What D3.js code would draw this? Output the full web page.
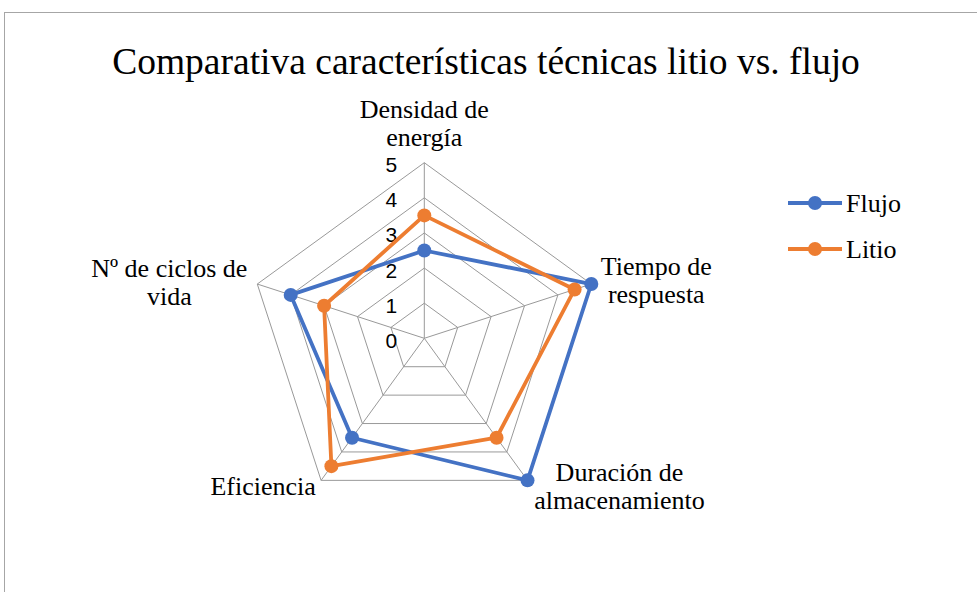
<!DOCTYPE html>
<html>
<head>
<meta charset="utf-8">
<script src="https://cdn.jsdelivr.net/npm/d3@7"></script>
<style>
  body { margin: 0; background: #fff; }
  text { fill: #000; }
</style>
</head>
<body>
<div id="chart"></div>
<script>
// Data
var axesNames = [
    ["Densidad de", "energía"],
    ["Tiempo de", "respuesta"],
    ["Duración de", "almacenamiento"],
    ["Eficiencia"],
    ["Nº de ciclos de", "vida"]
];
var flujoValues = [2.5, 5, 5, 3.5, 4];
var litioValues = [3.5, 4.5, 3.5, 4.5, 3];
var seriesNames = ["Flujo", "Litio"];
var tickValues = [0, 1, 2, 3, 4, 5];

var svgWidth = 977;
var svgHeight = 592;
var cx = 424.3, cy = 338.3, radius = 175.6;
var colors = ["#4472C4", "#ED7D31"];

var svg = d3.select('#chart').append('svg')
    .attr('width', svgWidth)
    .attr('height', svgHeight);

// chart border
svg.append('rect')
    .attr('x', 4.5).attr('y', 12.5)
    .attr('width', 1000).attr('height', 1000)
    .attr('fill', 'none')
    .attr('stroke', '#a6a6a6');

// Title
svg.append('text')
    .attr('x', 486)
    .attr('y', 74)
    .attr('text-anchor', 'middle')
    .style('font-family', 'Liberation Serif, Times New Roman, serif')
    .style('font-size', '37.5px')
    .text('Comparativa características técnicas litio vs. flujo');

var rScale = d3.scaleLinear().domain([0, 5]).range([0, radius]);
var angle = d3.scalePoint().domain(d3.range(axesNames.length)).range([0, 2 * Math.PI * 4 / 5]);

function pt(i, v) {
    var a = angle(i) - Math.PI / 2;
    return [cx + rScale(v) * Math.cos(a), cy + rScale(v) * Math.sin(a)];
}

var g = svg.append('g');

// grid rings
tickValues.slice(1).forEach(function (t) {
    g.append('polygon')
        .attr('points', d3.range(axesNames.length).map(function (i) { return pt(i, t).join(','); }).join(' '))
        .attr('fill', 'none')
        .attr('stroke', '#999')
        .attr('stroke-width', 1);
});

// spokes
d3.range(axesNames.length).forEach(function (i) {
    var p = pt(i, 5);
    g.append('line')
        .attr('x1', cx).attr('y1', cy)
        .attr('x2', p[0]).attr('y2', p[1])
        .attr('stroke', '#999')
        .attr('stroke-width', 1);
});

// tick labels
g.selectAll('.tick')
    .data(tickValues)
    .enter()
    .append('text')
    .attr('x', cx - 27)
    .attr('y', d => cy - rScale(d) + 2)
    .attr('text-anchor', 'end')
    .attr('dominant-baseline', 'central')
    .style('font-family', 'Liberation Sans, Arial, sans-serif')
    .style('font-size', '21px')
    .text(d => d);

// axis labels
var labelOffsets = [[0, -44.7], [65, -9], [92, 1], [-58, 15], [-88, -7]];
axesNames.forEach(function (lines, i) {
    var p = pt(i, 5);
    var t = g.append('text')
        .attr('text-anchor', 'middle')
        .style('font-family', 'Liberation Serif, Times New Roman, serif')
        .style('font-size', '26px');
    lines.forEach(function (l, k) {
        t.append('tspan')
            .attr('x', p[0] + labelOffsets[i][0])
            .attr('y', p[1] + labelOffsets[i][1] + k * 28)
            .text(l);
    });
});

// series
var allSeries = [flujoValues, litioValues];
var line = d3.line();
allSeries.forEach(function (vals, s) {
    var pts = vals.map(function (v, i) { return pt(i, v); });
    g.append('path')
        .attr('d', line(pts) + 'Z')
        .attr('fill', 'none')
        .attr('stroke', colors[s])
        .attr('stroke-width', 3.8)
        .attr('stroke-linejoin', 'round');
});
allSeries.forEach(function (vals, s) {
    g.selectAll('.m' + s)
        .data(vals)
        .enter()
        .append('circle')
        .attr('cx', (d, i) => pt(i, d)[0])
        .attr('cy', (d, i) => pt(i, d)[1])
        .attr('r', 7)
        .attr('fill', colors[s]);
});

// legend
var legend = svg.append('g');
seriesNames.forEach(function (name, s) {
    var y = 203 + s * 46;
    legend.append('line')
        .attr('x1', 788).attr('x2', 842)
        .attr('y1', y).attr('y2', y)
        .attr('stroke', colors[s])
        .attr('stroke-width', 3.8);
    legend.append('circle')
        .attr('cx', 815).attr('cy', y)
        .attr('r', 7)
        .attr('fill', colors[s]);
    legend.append('text')
        .attr('x', 846)
        .attr('y', y + 9)
        .style('font-family', 'Liberation Serif, Times New Roman, serif')
        .style('font-size', '26px')
        .text(name);
});
</script>
</body>
</html>
